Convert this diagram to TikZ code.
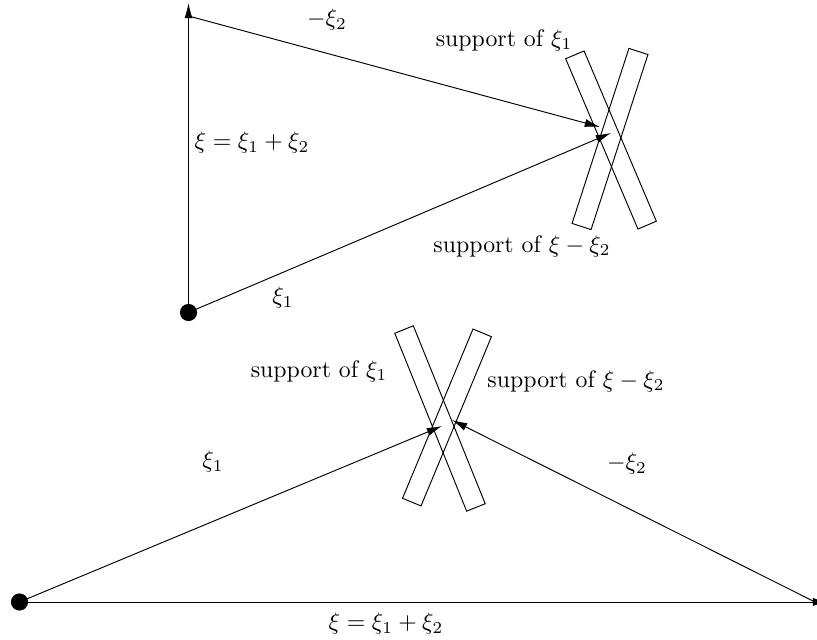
\documentclass[tikz,border=0pt]{standalone}
\usetikzlibrary{arrows.meta}
\begin{document}
\begin{tikzpicture}[x=0.42pt,y=-0.42pt,
  vec/.style={-{Latex[length=6.4pt,width=3.4pt]}},
  dot/.style={circle,fill=black,inner sep=0pt,minimum size=7.2pt},
  supp/.style={draw,rectangle,inner sep=0pt,minimum width=8.4pt},
  lbl/.style={inner sep=0pt}]
\useasboundingbox (0,0) rectangle (817,640);
% ---------- top figure ----------
\coordinate (O1) at (188.5,312.5);
\coordinate (T1) at (188.5,3);
\coordinate (S1) at (188.5,16);
\coordinate (P1) at (600,127);
\coordinate (Q1) at (611,133);
\node[supp,minimum height=77.7pt,rotate=23] (r1) at (611,140) {};
\node[supp,minimum height=77.3pt,rotate=-18] (r2) at (610,139) {};
\draw[vec] (O1) -- (T1);
\draw[vec] (S1) -- (P1);
\draw[vec] (O1) -- (Q1);
\node[dot] (d1) at (O1) {};
\node[lbl] (l1) at (327,20) {$-\xi_2$};
\node[lbl] (l2) at (504,40) {support of $\xi_1$};
\node[lbl] (l3) at (252,143) {$\xi=\xi_1+\xi_2$};
\node[lbl] (l4) at (522,246) {support of $\xi-\xi_2$};
\node[lbl] (l5) at (283,298) {$\xi_1$};
% ---------- bottom figure ----------
\coordinate (O2) at (19.5,602);
\coordinate (E2) at (828,602);
\coordinate (R2) at (815,602);
\coordinate (P2) at (442,426);
\coordinate (Q2) at (452,420);
\node[supp,minimum height=80.6pt,rotate=22] (r3) at (440,418.5) {};
\node[supp,minimum height=77pt,rotate=-22.6] (r4) at (447,417.5) {};
\draw[vec] (O2) -- (P2);
\draw[vec] (R2) -- (Q2);
\draw[vec] (O2) -- (E2);
\node[dot] (d2) at (O2) {};
\node[lbl] (l6) at (319,371) {support of $\xi_1$};
\node[lbl] (l7) at (576,381) {support of $\xi-\xi_2$};
\node[lbl] (l8) at (213,462) {$\xi_1$};
\node[lbl] (l9) at (627,464) {$-\xi_2$};
\node[lbl] (l10) at (386,624) {$\xi=\xi_1+\xi_2$};
\end{tikzpicture}
\end{document}
